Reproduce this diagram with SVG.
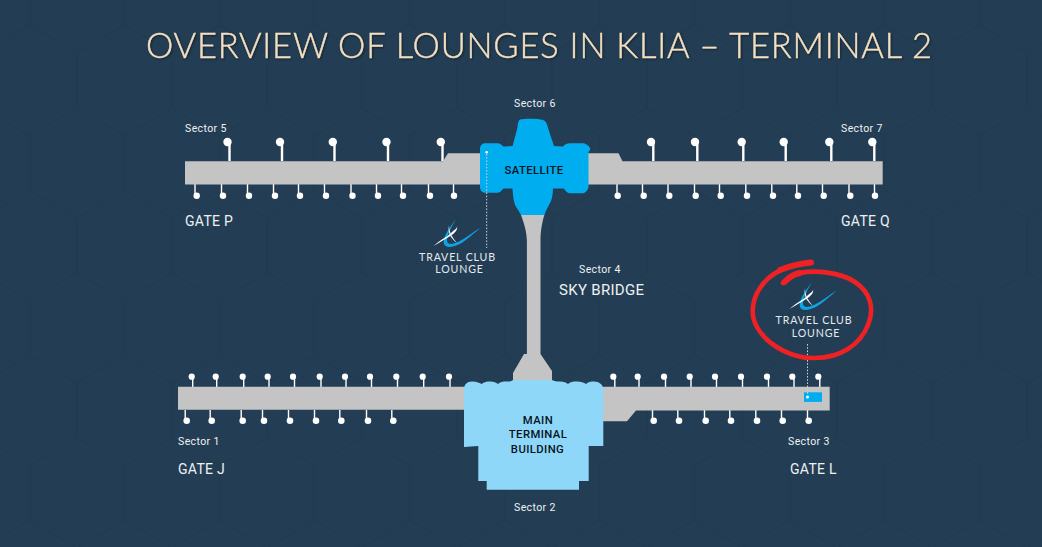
<svg xmlns="http://www.w3.org/2000/svg" width="1042" height="547" viewBox="0 0 1042 547">
<style>
.bar{fill:#c4c4c4}
.pin{stroke:#fff;fill:none;stroke-linecap:butt}
.a{stroke-width:2.4}.b{stroke-width:1.4}
.d{fill:#fff}
.dot{stroke:#c9d3db;stroke-width:1;stroke-dasharray:1.6 1.6;fill:none}
.sec{font-family:Roboto,"Liberation Sans",sans-serif;font-size:10.5px;fill:#eef1f3;letter-spacing:.4px}
.gate{font-family:Roboto,"Liberation Sans",sans-serif;font-size:14px;font-weight:400;fill:#eef1f3;letter-spacing:.3px}
.sky{font-family:Roboto,"Liberation Sans",sans-serif;font-size:15px;font-weight:400;fill:#eef1f3;letter-spacing:.3px}
.in{font-family:Roboto,"Liberation Sans",sans-serif;font-size:11.3px;font-weight:500;fill:#07131c;text-anchor:middle;letter-spacing:.4px}
.lg{font-family:Lato,"Liberation Sans",sans-serif;font-size:10.6px;fill:#e6ebef;text-anchor:middle;letter-spacing:.85px}
.title{font-family:Lato,"Open Sans",sans-serif;font-weight:300;font-size:34.5px;fill:#f4dfc2;stroke:#f4dfc2;stroke-width:.4px;filter:drop-shadow(1px 1px 1px rgba(0,0,0,.45))}
</style>
<defs>
<pattern id="hex" width="95" height="165" patternUnits="userSpaceOnUse" x="29.5" y="25">
<path d="M0,0L47.5,28L95,0M47.5,28V83M0,110.5L47.5,83L95,110.5M0,110.5V165M95,110.5V165" fill="none" stroke="#1d384c" stroke-width="1"/>
</pattern>
<g id="logo">
<path d="M455.5,219.5C450,227 442,238 444,244C446,249 456,247 463,242C470,237 474,233 481,227.5C473,232 466,238 459,241.500C453,244.500 447.500,245 447,241C446.500,236 451,228 455.500,219.500Z" fill="#0ea5e6"/>
<path d="M433.500,246C440,240 447,237 451,233C454,230 457,229 457,226.500C458,229.500 455,233 451,235.500C446,239 440,242 433.500,246Z" fill="#fff"/>
<path d="M449,225C449,232 452,237 457,243C453,240 447,235 449,225Z" fill="#fff" opacity=".9"/>
</g>
</defs>
<rect width="1042" height="547" fill="#233e54"/>
<rect width="1042" height="547" fill="url(#hex)" opacity=".8"/>
<text id="title" class="title" x="146" y="57.500" textLength="786" lengthAdjust="spacing">OVERVIEW OF LOUNGES IN KLIA – TERMINAL 2</text>

<g id="connectors">
<g id="pins-sector5">
<path class="pin a" d="M229.500,161V142"/><circle class="d" cx="227.500" cy="142" r="4.200"/>
<path class="pin a" d="M282,161V142"/><circle class="d" cx="280" cy="142" r="4.200"/>
<path class="pin a" d="M334.500,161V142"/><circle class="d" cx="332.800" cy="142" r="4.200"/>
<path class="pin a" d="M388,161V142"/><circle class="d" cx="386.500" cy="142" r="4.200"/>
<path class="pin a" d="M442.500,161V142"/><circle class="d" cx="440.800" cy="142" r="4.200"/>
<path class="pin b" d="M195,184V195"/><circle class="d" cx="196.700" cy="195.700" r="3.200"/>
<path class="pin b" d="M221.500,184V195"/><circle class="d" cx="223" cy="195.700" r="3.200"/>
<path class="pin b" d="M247.500,184V195"/><circle class="d" cx="249" cy="195.700" r="3.200"/>
<path class="pin b" d="M273.500,184V195"/><circle class="d" cx="275" cy="195.700" r="3.200"/>
<path class="pin b" d="M298.500,184V195"/><circle class="d" cx="300" cy="195.700" r="3.200"/>
<path class="pin b" d="M324.500,184V195"/><circle class="d" cx="326" cy="195.700" r="3.200"/>
<path class="pin b" d="M351,184V195"/><circle class="d" cx="352.500" cy="195.700" r="3.200"/>
<path class="pin b" d="M376.500,184V195"/><circle class="d" cx="378" cy="195.700" r="3.200"/>
<path class="pin b" d="M401.500,184V195"/><circle class="d" cx="403" cy="195.700" r="3.200"/>
<path class="pin b" d="M428.500,184V195"/><circle class="d" cx="430" cy="195.700" r="3.200"/>
<path class="pin b" d="M453.500,184V195"/><circle class="d" cx="454" cy="195.700" r="3.200"/>
</g>
<g id="pins-sector7">
<path class="pin a" d="M653.300,161V142"/><circle class="d" cx="651" cy="142" r="4.200"/>
<path class="pin a" d="M697.300,161V142"/><circle class="d" cx="695" cy="142" r="4.200"/>
<path class="pin a" d="M743.300,161V142"/><circle class="d" cx="741.700" cy="142" r="4.200"/>
<path class="pin a" d="M785.700,161V142"/><circle class="d" cx="783.700" cy="142" r="4.200"/>
<path class="pin a" d="M831.300,161V142"/><circle class="d" cx="829.300" cy="142" r="4.200"/>
<path class="pin a" d="M874.300,161V142"/><circle class="d" cx="872.300" cy="142" r="4.200"/>
<path class="pin b" d="M617,184V195"/><circle class="d" cx="617.700" cy="195.700" r="3.200"/>
<path class="pin b" d="M642.500,184V195"/><circle class="d" cx="643.700" cy="195.700" r="3.200"/>
<path class="pin b" d="M668,184V195"/><circle class="d" cx="669.300" cy="195.700" r="3.200"/>
<path class="pin b" d="M694.500,184V195"/><circle class="d" cx="695.700" cy="195.700" r="3.200"/>
<path class="pin b" d="M719.500,184V195"/><circle class="d" cx="720.700" cy="195.700" r="3.200"/>
<path class="pin b" d="M745.800,184V195"/><circle class="d" cx="747" cy="195.700" r="3.200"/>
<path class="pin b" d="M771.800,184V195"/><circle class="d" cx="773" cy="195.700" r="3.200"/>
<path class="pin b" d="M796.800,184V195"/><circle class="d" cx="798" cy="195.700" r="3.200"/>
<path class="pin b" d="M822.500,184V195"/><circle class="d" cx="823.700" cy="195.700" r="3.200"/>
<path class="pin b" d="M849,184V195"/><circle class="d" cx="850.300" cy="195.700" r="3.200"/>
<path class="pin b" d="M874.500,184V195"/><circle class="d" cx="875" cy="195.700" r="3.200"/>
</g>
<g id="pins-sector1">
<path class="pin b" d="M192.700,387V377"/><circle class="d" cx="191.700" cy="376.700" r="3.100"/>
<path class="pin b" d="M216.700,387V377"/><circle class="d" cx="215.700" cy="376.700" r="3.100"/>
<path class="pin b" d="M243.700,387V377"/><circle class="d" cx="242.700" cy="376.700" r="3.100"/>
<path class="pin b" d="M269,387V377"/><circle class="d" cx="267.700" cy="376.700" r="3.100"/>
<path class="pin b" d="M294.500,387V377"/><circle class="d" cx="293" cy="376.700" r="3.100"/>
<path class="pin b" d="M321,387V377"/><circle class="d" cx="319.700" cy="376.700" r="3.100"/>
<path class="pin b" d="M346,387V377"/><circle class="d" cx="345" cy="376.700" r="3.100"/>
<path class="pin b" d="M371.500,387V377"/><circle class="d" cx="370" cy="376.700" r="3.100"/>
<path class="pin b" d="M397.500,387V377"/><circle class="d" cx="396.300" cy="376.700" r="3.100"/>
<path class="pin b" d="M423.700,387V377"/><circle class="d" cx="422.700" cy="376.700" r="3.100"/>
<path class="pin b" d="M450,387V377"/><circle class="d" cx="449" cy="376.700" r="3.100"/>
<path class="pin b" d="M185.200,410V420"/><circle class="d" cx="186.700" cy="420.700" r="3.300"/>
<path class="pin b" d="M210.200,410V420"/><circle class="d" cx="211.700" cy="420.700" r="3.300"/>
<path class="pin b" d="M241.200,410V420"/><circle class="d" cx="242.700" cy="420.700" r="3.300"/>
<path class="pin b" d="M262.500,410V420"/><circle class="d" cx="264" cy="420.700" r="3.300"/>
<path class="pin b" d="M288.500,410V420"/><circle class="d" cx="290" cy="420.700" r="3.300"/>
<path class="pin b" d="M314.500,410V420"/><circle class="d" cx="316" cy="420.700" r="3.300"/>
<path class="pin b" d="M339.800,410V420"/><circle class="d" cx="341.300" cy="420.700" r="3.300"/>
<path class="pin b" d="M366.500,410V420"/><circle class="d" cx="368" cy="420.700" r="3.300"/>
<path class="pin b" d="M391.800,410V420"/><circle class="d" cx="393.300" cy="420.700" r="3.300"/>
</g>
<g id="pins-sector3">
<path class="pin b" d="M614.800,387V377"/><circle class="d" cx="613.300" cy="376.700" r="3.100"/>
<path class="pin b" d="M639,387V377"/><circle class="d" cx="637.700" cy="376.700" r="3.100"/>
<path class="pin b" d="M665.500,387V377"/><circle class="d" cx="664" cy="376.700" r="3.100"/>
<path class="pin b" d="M691,387V377"/><circle class="d" cx="689.700" cy="376.700" r="3.100"/>
<path class="pin b" d="M716.500,387V377"/><circle class="d" cx="715" cy="376.700" r="3.100"/>
<path class="pin b" d="M742.500,387V377"/><circle class="d" cx="741" cy="376.700" r="3.100"/>
<path class="pin b" d="M768.500,387V377"/><circle class="d" cx="767" cy="376.700" r="3.100"/>
<path class="pin b" d="M794,387V377"/><circle class="d" cx="792.300" cy="376.700" r="3.100"/>
<path class="pin b" d="M819.800,387V377"/><circle class="d" cx="818.300" cy="376.700" r="3.100"/>
<path class="pin b" d="M652.500,410V420"/><circle class="d" cx="653.700" cy="420.700" r="3.300"/>
<path class="pin b" d="M677.800,410V420"/><circle class="d" cx="679" cy="420.700" r="3.300"/>
<path class="pin b" d="M704.500,410V420"/><circle class="d" cx="705.700" cy="420.700" r="3.300"/>
<path class="pin b" d="M729.800,410V420"/><circle class="d" cx="731" cy="420.700" r="3.300"/>
<path class="pin b" d="M755.800,410V420"/><circle class="d" cx="757" cy="420.700" r="3.300"/>
<path class="pin b" d="M781.500,410V420"/><circle class="d" cx="782.700" cy="420.700" r="3.300"/>
<path class="pin b" d="M807.500,410V420"/><circle class="d" cx="808.700" cy="420.700" r="3.300"/>
</g>
</g>

<g id="pier-sector5-7">
<path class="bar" d="M185,161.300H443L448,153.300H490V184.400H185Z"/>
<path class="bar" d="M580,153.300H618.500L622.500,161.300H882.700V184.400H580Z"/>
</g>
<g id="pier-sector1-3">
<path class="bar" d="M178,386.800H470V409.800H178Z"/>
<path class="bar" d="M598,386.800H829.700V410.500H636L627,421.300H598Z"/>
</g>
<g id="sky-bridge">
<path class="bar" d="M521,212H544.500L544.300,215C541.500,225 540.500,232 540.500,242V354L552,371V382H513V373L524,354H526.900V242C526.900,232 524.500,225 521,215Z"/>
<text class="sec" x="579" y="273">Sector 4</text>
<text class="sky" x="559" y="295">SKY BRIDGE</text>
</g>
<g id="satellite">
<path fill="#00aeef" d="M520,119.500C525,118.500 538,118.500 543,120C546,121 546.500,123 547.500,126C549.500,133 552,140 554,146L563,146.500C565,144 567,143.300 570,143.300H583.500C585,143.300 589,146 590,148C590.800,149.500 588.500,152 588.500,152V187C588.500,189 585.500,193 583,193.300H570C566,193.300 565,188.500 563,188.500H553C552.800,194 552,200 550,203C548.500,206 546,210 544.300,215H521C518,209 515.500,207 514.500,203C513,198 512.800,193 512.500,188.500H504C502,189 501,192.700 498,192.700H485C482,192.700 480,190 480,187V149C480,146 482,143.300 485,143.300H498C501,143.300 502,146.500 504,146.500L512.700,146C514,139 516.500,133 517.500,127C518,123 518,121 520,119.500Z"/>
<text class="in" x="534" y="174">SATELLITE</text>
</g>
<g id="main-terminal">
<path fill="#8fd7f9" d="M464,447V389C464,385 467,381.500 472,381.500C477,381.500 480,383 481.700,384C484,382 487,381.500 490,381.500C494,381.500 496,382.500 498,384C500,382 503,381.500 506,381.500C509,381.500 511,381.500 513,380H552C554,381.500 557,381.500 560,381.500C564,381.500 566,382.500 568,384C570,382 573,381.500 577,381.500C581,381.500 584,382.500 586,384C588,382 591,381.500 594,381.500C599,381.500 603.300,385 603.300,389V446H588.700V481H579V489.700H486.700V481H478.300V446Z"/>
<text class="in" x="538" y="423.500">MAIN</text>
<text class="in" x="538" y="438">TERMINAL</text>
<text class="in" x="537.500" y="453">BUILDING</text>
</g>
<g id="lounge-satellite">
<circle cx="486.700" cy="152.300" r="1.300" fill="#fff"/>
<path class="dot" d="M486.700,154V248"/>
<use href="#logo"/>
<text class="lg" x="457.500" y="260.800">TRAVEL CLUB</text>
<text class="lg" x="459.500" y="273">LOUNGE</text>
</g>
<g id="lounge-gate-l">
<rect x="804" y="392.300" width="18" height="9.600" fill="#00aeef"/>
<circle cx="807.500" cy="397" r="1.500" fill="#fff"/>
<path class="dot" d="M807.500,344V395"/>
<use href="#logo" x="356" y="63"/>
<text class="lg" x="814" y="324">TRAVEL CLUB</text>
<text class="lg" x="816" y="336.500">LOUNGE</text>
<path fill="none" stroke="#ee2224" stroke-width="4.600" stroke-linecap="round" d="M811,262.500C790,264 770,272 760,288C752,300 750,315 757,327C768,347 795,359 815,358C840,358 860,345 868,325C875,308 870,292 855,282C840,272 815,270 800,273C795,274 790,276 783,283"/>
<path fill="none" stroke="#ee2224" stroke-width="6" stroke-linecap="round" d="M811,262.500C800,263.500 790,266 780,270M800,273C795,274 790,276 784.500,282"/>
</g>
<g id="labels">
<text class="sec" x="185" y="132">Sector 5</text>
<text class="sec" x="514" y="107">Sector 6</text>
<text class="sec" x="841" y="132">Sector 7</text>
<text class="sec" x="178" y="445">Sector 1</text>
<text class="sec" x="514" y="511">Sector 2</text>
<text class="sec" x="788" y="445">Sector 3</text>
<text class="gate" x="185" y="226">GATE P</text>
<text class="gate" x="841" y="226">GATE Q</text>
<text class="gate" x="178" y="474">GATE J</text>
<text class="gate" x="790" y="474">GATE L</text>
</g>
</svg>
